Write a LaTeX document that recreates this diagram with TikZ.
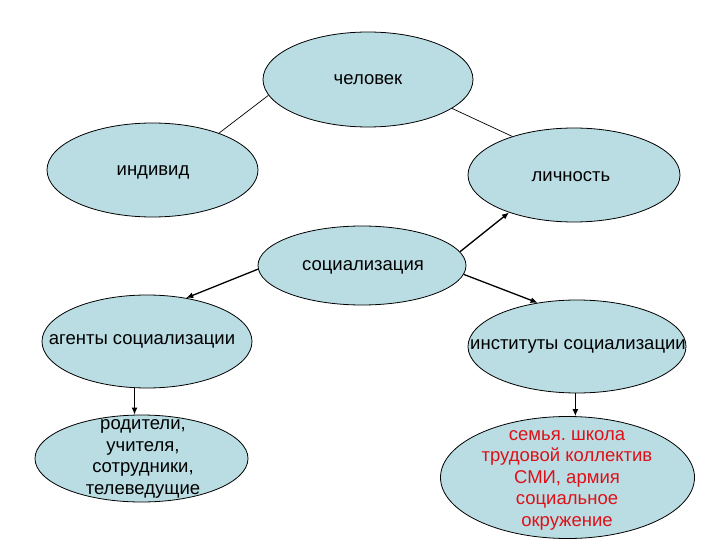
\documentclass[tikz,border=0pt]{standalone}
\usepackage{fontspec}
\setmainfont{Liberation Sans}
\usetikzlibrary{shapes.geometric,arrows.meta}
\definecolor{ellfill}{RGB}{185,221,227}
\definecolor{redtext}{RGB}{222,16,24}
\frenchspacing
\tikzset{
  ell/.style={ellipse, draw=black, line width=0.8pt, fill=ellfill, inner sep=0pt},
  txt/.style={align=center, inner sep=0pt, font=\fontsize{18.5}{21.5}\selectfont},
  plain/.style={draw=black, line width=0.7pt},
  arr/.style={draw=black, line width=1.3pt, -{Latex[length=7pt,width=6pt]}}
}
\begin{document}
\begin{tikzpicture}[x=1pt,y=-1pt]
\useasboundingbox (0,0) rectangle (720,540);
% ellipses
\node[ell, minimum width=210pt, minimum height=95pt] (chel) at (368,79.5) {};
\node[ell, minimum width=211pt, minimum height=94pt] (ind) at (152.5,170) {};
\node[ell, minimum width=212pt, minimum height=94pt] (lich) at (574,175) {};
\node[ell, minimum width=208pt, minimum height=79pt] (soc) at (362,265.5) {};
\node[ell, minimum width=210pt, minimum height=93pt] (ag) at (147,341.5) {};
\node[ell, minimum width=218pt, minimum height=93pt] (inst) at (577,346.5) {};
\node[ell, minimum width=213pt, minimum height=87pt] (rod) at (141.5,458.5) {};
\node[ell, minimum width=254pt, minimum height=122pt] (sem) at (567.5,477.5) {};
% texts
\node[txt] (tchel) at (368,80) {человек};
\node[txt] (tind) at (153,172) {индивид};
\node[txt] (tlich) at (571,177) {личность};
\node[txt] (tsoc) at (363,267) {социализация};
\node[txt] (tag) at (142,341) {агенты социализации};
\node[txt] (tinst) at (578,346) {институты социализации};
\node[txt] (trod) at (143,459) {родители,\\учителя,\\сотрудники,\\телеведущие};
\node[txt, text=redtext] (tsem) at (567,480) {семья. школа\\трудовой коллектив\\СМИ, армия\\социальное\\окружение};
% connectors
\path[plain] (chel.189) -- (ind.29);
\path[plain] (chel.-19) -- (lich.148);
\path[arr] (soc.8) -- (lich.-150);
\path[arr] (soc.182) -- (ag.48);
\path[arr] (soc.-5) -- (inst.132);
\path[arr] (ag.-105) -- (ag.-105 |- rod.north);
\path[arr] (inst.-92) -- (inst.-92 |- sem.north);
\end{tikzpicture}
\end{document}
